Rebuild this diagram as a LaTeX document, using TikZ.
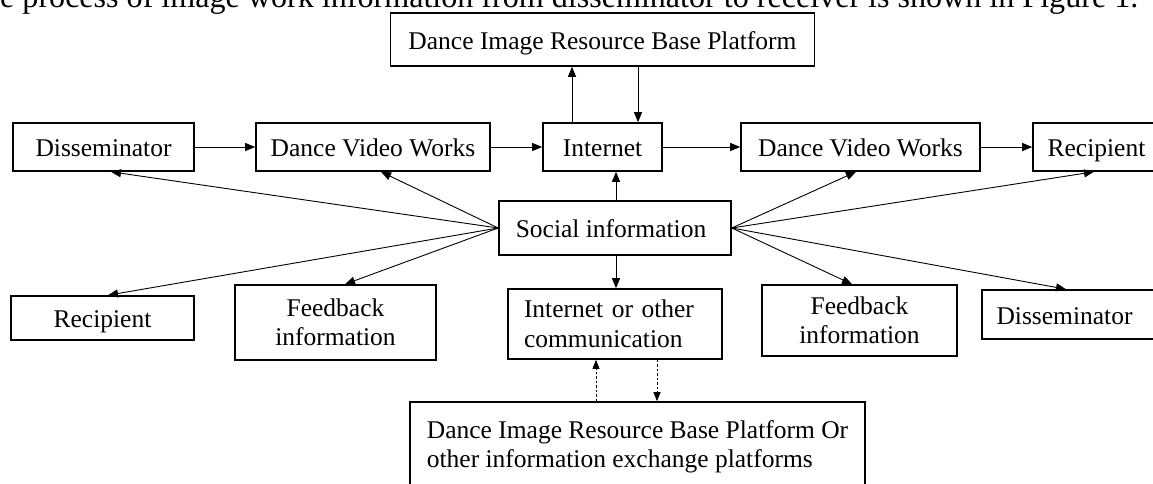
\documentclass[tikz,border=0pt]{standalone}
\usepackage{fontspec}
\setmainfont{Liberation Serif}
\usepackage{graphicx}
\usetikzlibrary{arrows.meta}
\newcommand\lblfont{\fontsize{25.5}{29.5}\selectfont}
\begin{document}
\begin{tikzpicture}[x=1pt,y=-1pt,
  box/.style={draw, line width=1.6pt, inner sep=0pt, align=center, font=\lblfont},
  one/.style={text height=20pt, text depth=0.6pt},
  arr/.style={-{Triangle[length=10pt,width=8pt]}, line width=0.9pt},
  dotarr/.style={-{Triangle[length=9pt,width=7pt]}, line width=0.9pt, dash pattern=on 2.5pt off 2pt}]
\useasboundingbox (0,0) rectangle (1153,484);
\clip (0,0) rectangle (1153,484);
\fill[white] (0,0) rectangle (1153,484);
% cut-off caption line at the top
\node[anchor=base west, inner sep=0pt] (caption) at (0,8)
  {\resizebox{1138pt}{!}{\llap{Th}e process of image work information from disseminator to receiver is shown in Figure 1.}};
% nodes
\node[box, one, minimum width=424pt, minimum height=53pt] (tp) at (602.5,39.5) {Dance Image Resource Base Platform};
\node[box, one, minimum width=181pt, minimum height=48pt] (dis1) at (103.5,147) {Disseminator};
\node[box, one, minimum width=234pt, minimum height=48pt] (dvw1) at (373,147) {Dance Video Works};
\node[box, one, minimum width=119pt, minimum height=48pt] (int) at (602.5,147) {Internet};
\node[box, one, minimum width=239pt, minimum height=48pt] (dvw2) at (860.5,147) {Dance Video Works};
\node[box, one, minimum width=127pt, minimum height=48pt] (rec1) at (1096.5,147) {Recipient};
\node[box, one, minimum width=232pt, minimum height=54pt] (soc) at (615,228) {Social information\hspace*{8pt}};
\node[box, one, minimum width=183pt, minimum height=44pt] (rec2) at (102.5,318) {Recipient};
\node[box, minimum width=201pt, minimum height=75pt] (fb1) at (335.5,322.5) {Feedback\\information};
\node[box, text width=182pt, inner xsep=16pt, minimum height=70pt, align=left] (ioc) at (615,324) {Internet or other\\communication};
\node[box, minimum width=195pt, minimum height=71pt] (fb2) at (859.5,320.5) {Feedback\\information};
\node[box, one, minimum width=178pt, minimum height=49pt] (dis2) at (1071,314.5) {Disseminator\hspace*{13pt}};
\node[box, minimum width=455pt, minimum height=90pt, align=left] (bot) at (637.5,447) {Dance Image Resource Base Platform Or\\other information exchange platforms};
% main row
\draw[arr] (dis1.east) -- (dvw1.west);
\draw[arr] (dvw1.east) -- (int.west);
\draw[arr] (int.east) -- (dvw2.west);
\draw[arr] (dvw2.east) -- (rec1.west);
% platform exchange
\draw[arr] ([xshift=-30.5pt]int.north) -- ([xshift=-30.5pt]tp.south);
\draw[arr] ([xshift=35.5pt]tp.south) -- ([xshift=35.5pt]int.north);
% social information
\draw[arr] ([xshift=1pt]soc.north) -- ([xshift=13.5pt]int.south);
\draw[arr] ([xshift=1pt]soc.south) -- ([xshift=1pt]ioc.north);
\draw[arr] (soc.west) -- ([xshift=7.5pt]dis1.south);
\draw[arr] (soc.west) -- ([xshift=8pt]dvw1.south);
\draw[arr] (soc.west) -- ([xshift=5.5pt]rec2.north);
\draw[arr] (soc.west) -- ([xshift=9.5pt]fb1.north);
\draw[arr] (soc.east) -- ([xshift=-4.5pt]dvw2.south);
\draw[arr] (soc.east) -- ([xshift=-2.5pt]rec1.south);
\draw[arr] (soc.east) -- ([xshift=-7.5pt]fb2.north);
\draw[arr] (soc.east) -- ([xshift=-5pt]dis2.north);
% dotted exchange with the bottom platform
\draw[dotarr] ([xshift=-41.5pt]bot.north) -- ([xshift=-19pt]ioc.south);
\draw[dotarr] ([xshift=42pt]ioc.south) -- ([xshift=19.5pt]bot.north);
\end{tikzpicture}
\end{document}
